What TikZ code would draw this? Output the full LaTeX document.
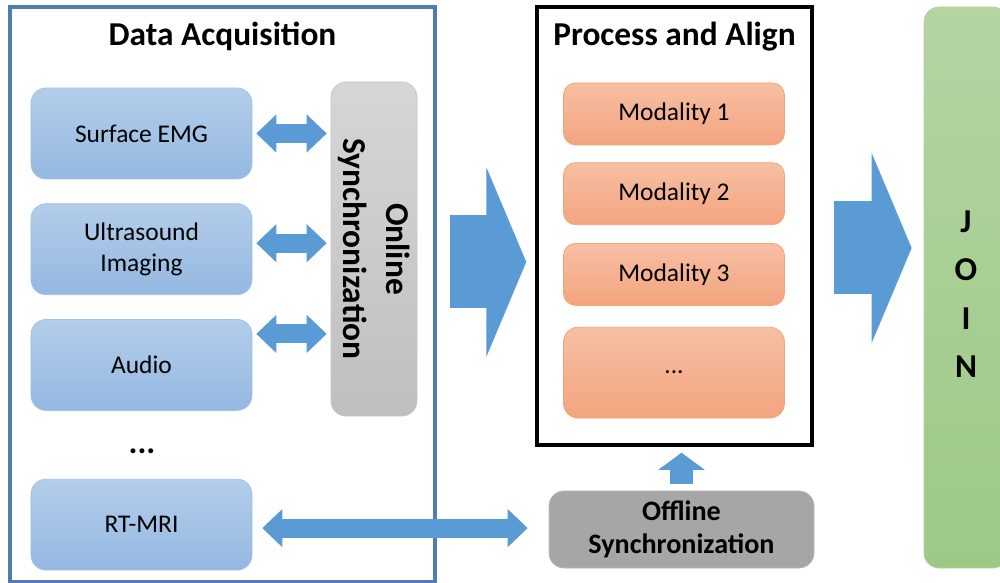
\documentclass[tikz,border=0pt]{standalone}
\usepackage{fontspec}
\setmainfont{Carlito}
\usepackage{xcolor}
\usetikzlibrary{arrows.meta,positioning,calc}

\definecolor{acqblue}{HTML}{4F7DB2}
\definecolor{arrowblue}{HTML}{5B9BD5}
\definecolor{boxtop}{HTML}{B3CDEA}
\definecolor{boxbot}{HTML}{94B8E1}
\definecolor{boxline}{HTML}{A3C2E6}
\definecolor{graytop}{HTML}{D6D6D6}
\definecolor{graybot}{HTML}{BFBFBF}
\definecolor{modtop}{HTML}{F6BFA3}
\definecolor{modbot}{HTML}{F4A47E}
\definecolor{modline}{HTML}{F4A374}
\definecolor{offgray}{HTML}{A6A6A6}
\definecolor{jointop}{HTML}{B4D4A2}
\definecolor{joinbot}{HTML}{9DC985}

\begin{document}
\begin{tikzpicture}[
  x=0.2mm, y=-0.2mm,
  frame/.style={draw, line width=0.7mm, inner sep=0pt},
  title/.style={font=\fontsize{19}{23}\selectfont\bfseries},
  sensor/.style={draw=boxline, rounded corners=3mm, top color=boxtop, bottom color=boxbot, minimum width=44.2mm, minimum height=18.2mm, align=center, font=\fontsize{14.5}{18}\selectfont},
  modality/.style={draw=modline, rounded corners=2.4mm, top color=modtop, bottom color=modbot, minimum width=44.2mm, minimum height=12.4mm, align=center, font=\fontsize{14.5}{18}\selectfont},
  syncbox/.style={rounded corners=3mm, align=center, font=\fontsize{16}{18.5}\selectfont\bfseries},
  dblarrow/.style={arrowblue, line width=3.8mm, shorten <=0.8mm, shorten >=0.8mm,
    {Triangle[length=4mm,width=7.6mm,line width=0.6pt]}-{Triangle[length=4mm,width=7.6mm,line width=0.6pt]}},
  bigarrow/.style={arrowblue, line width=18.6mm, -{Triangle[length=8mm,width=38mm,line width=0.6pt]}},
  uparrow/.style={arrowblue, line width=4.6mm, -{Triangle[length=3.4mm,width=9.2mm,line width=0.6pt]}}
]
\useasboundingbox (0,0) rectangle (1000,583);

% data acquisition
\node[frame, draw=acqblue, minimum width=85mm, minimum height=115mm] (dacq) at (222.5,294.5) {};
\node[title] (dacqtitle) at ([yshift=-6.2mm]dacq.north) {Data Acquisition};
\node[sensor] (emg) at (141.5,133.5) {Surface EMG};
\node[sensor, below=4.8mm of emg] (us) {Ultrasound\\Imaging};
\node[sensor, below=4.8mm of us] (audio) {Audio};
\node[sensor, below=13.6mm of audio] (rtmri) {RT-MRI};
\node[title] (sdots) at (142,451) {...};
\node[syncbox, draw=graybot!90, top color=graytop, bottom color=graybot, minimum width=17.2mm, minimum height=66.8mm] (online) at (374,249) {};
\node[syncbox, rotate=-90, font=\fontsize{19}{24}\selectfont\bfseries] (onlinetext) at (online.center) {Online\\Synchronization};

% process and align
\node[frame, minimum width=55mm, minimum height=87.6mm] (process) at (674.5,226) {};
\node[title] (proctitle) at ([yshift=-6.2mm]process.north) {Process and Align};
\node[modality] (mod1) at (674,114) {Modality 1};
\node[modality, below=3.4mm of mod1] (mod2) {Modality 2};
\node[modality, below=3.6mm of mod2] (mod3) {Modality 3};
\node[modality, below=4.2mm of mod3, minimum height=18.2mm, rounded corners=3mm] (moddots) {...};
\node[syncbox, draw=offgray!80, fill=offgray, minimum width=53mm, minimum height=15.4mm] (offline) at (681.5,529.5) {Offline\\Synchronization};

% join
\node[syncbox, draw=jointop, top color=jointop, bottom color=joinbot, minimum width=16.8mm, minimum height=112.2mm] (join) at (966,287.5) {};
\node[align=center, font=\fontsize{19}{27.6}\selectfont\bfseries] (jointext) at (966,294) {J\\O\\I\\N};

% arrows
\draw[dblarrow] (emg.east) -- (emg.east -| online.west);
\draw[dblarrow] ([yshift=1.2mm]us.east) -- ([yshift=1.2mm]us.east -| online.west);
\draw[dblarrow] ([yshift=6.2mm]audio.east) -- ([yshift=6.2mm]audio.east -| online.west);
\draw[dblarrow, shorten <=2mm, shorten >=4.2mm] ([yshift=-0.7mm]rtmri.east) -- ([yshift=-0.7mm]rtmri.east -| offline.west);
\draw[bigarrow, shorten <=2.6mm, shorten >=1.8mm] (dacq.east |- 0,262) -- (process.west |- 0,262);
\draw[bigarrow, shorten <=4mm, shorten >=2.4mm] (process.east |- 0,248) -- (join.west |- 0,248);
\draw[uparrow, shorten <=1.4mm, shorten >=1.2mm] (offline.north) -- (offline.north |- process.south);

\end{tikzpicture}
\end{document}
